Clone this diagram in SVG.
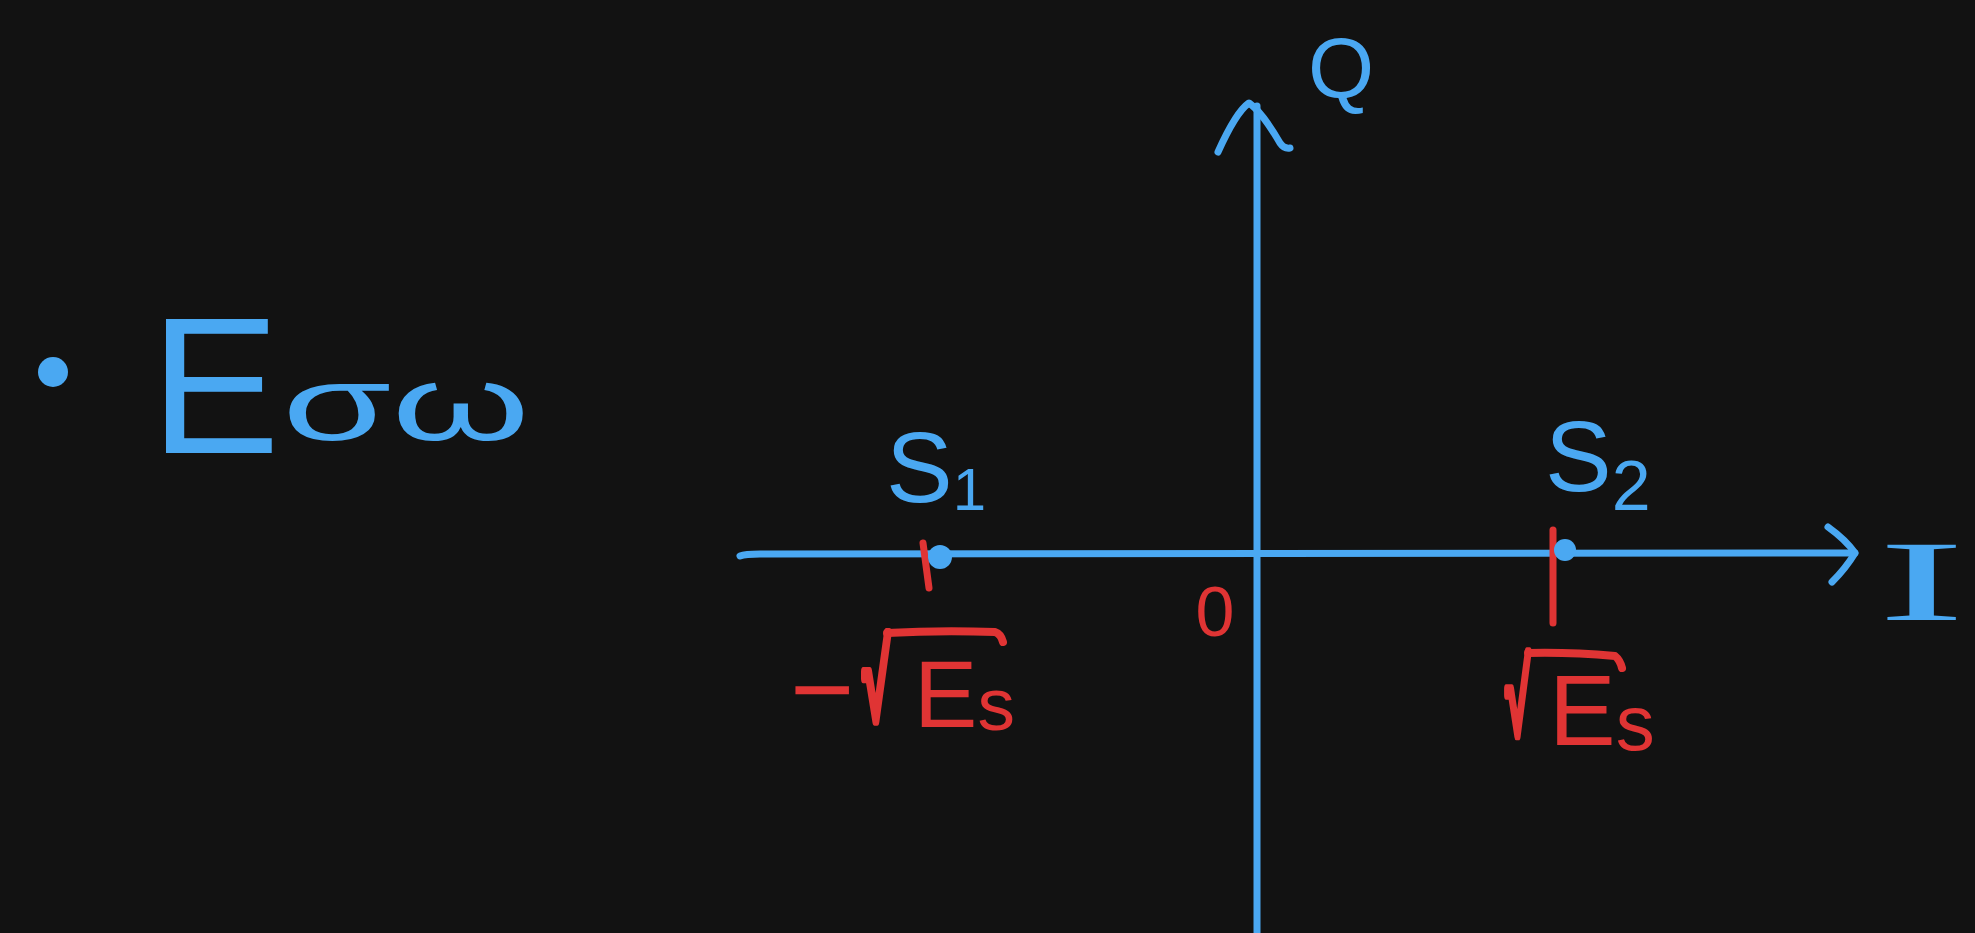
<svg xmlns="http://www.w3.org/2000/svg" width="1975" height="933" viewBox="0 0 1975 933">
<style>
.b{fill:#4aa8f2;font-family:"Liberation Sans","DejaVu Sans",sans-serif}
.r{fill:#e03434;font-family:"Liberation Sans","DejaVu Sans",sans-serif}
.rad{stroke:#e03434;stroke-width:9;stroke-linejoin:round}
.ln{fill:none;stroke-linecap:round;stroke-linejoin:round}
</style>
<rect width="1975" height="933" fill="#121212"/>
<g id="connectors">
  <path class="ln" stroke="#4aa8f2" stroke-width="7" d="M1257,933 L1257,106"/>
  <path class="ln" stroke="#4aa8f2" stroke-width="7" d="M1218,152 Q1236,112 1249,103 Q1262,112 1280,143 Q1284,149 1290,148"/>
  <path class="ln" stroke="#4aa8f2" stroke-width="7" d="M740,556 Q745,554 760,554 L1855,553"/>
  <path class="ln" stroke="#4aa8f2" stroke-width="7" d="M1828,527 Q1846,540 1855,553 Q1846,568 1832,582"/>
</g>
<g id="title">
  <circle cx="53" cy="372" r="15" fill="#4aa8f2"/>
  <text class="b" x="150" y="453" font-size="195">Ε</text>
  <text class="b" x="282" y="440" font-size="105" textLength="248" lengthAdjust="spacingAndGlyphs">σω</text>
</g>
<g id="label-Q"><text class="b" x="1308" y="98" font-size="85">Q</text></g>
<g id="label-I"><text class="b" x="1878" y="620" font-size="115" style="font-family:'Liberation Serif',serif" textLength="87" lengthAdjust="spacingAndGlyphs">I</text></g>
<g id="origin"><text class="r" x="1215" y="636" font-size="70" text-anchor="middle">0</text></g>
<g id="s1">
  <path class="ln" stroke="#e03434" stroke-width="7" d="M923,543 L929,588"/>
  <circle cx="940" cy="557" r="12" fill="#4aa8f2"/>
  <text class="b" x="886" y="502" font-size="100">S<tspan font-size="60" dy="8">1</tspan></text>
  <text class="r" x="790" y="727" font-size="110">−</text>
  <text class="r rad" transform="translate(862,720) scale(0.5,1.1)" x="0" y="0" font-size="100">√</text>
  <path class="ln" stroke="#e03434" stroke-width="8" d="M887,633 Q940,630 995,632 Q1001,634 1003,642"/>
  <text class="r" x="914" y="727" font-size="95">E<tspan font-size="75" dy="3">s</tspan></text>
</g>
<g id="s2">
  <path class="ln" stroke="#e03434" stroke-width="7" d="M1553,530 L1553,623"/>
  <circle cx="1565" cy="550" r="11" fill="#4aa8f2"/>
  <text class="b" x="1545" y="491" font-size="100">S<tspan font-size="70" dy="19">2</tspan></text>
  <text class="r rad" transform="translate(1505,735) scale(0.45,1.05)" x="0" y="0" font-size="100">√</text>
  <path class="ln" stroke="#e03434" stroke-width="8" d="M1528,653 Q1570,652 1615,656 Q1620,660 1622,668"/>
  <text class="r" x="1549" y="745" font-size="100">E<tspan font-size="78" dy="5">s</tspan></text>
</g>
</svg>
